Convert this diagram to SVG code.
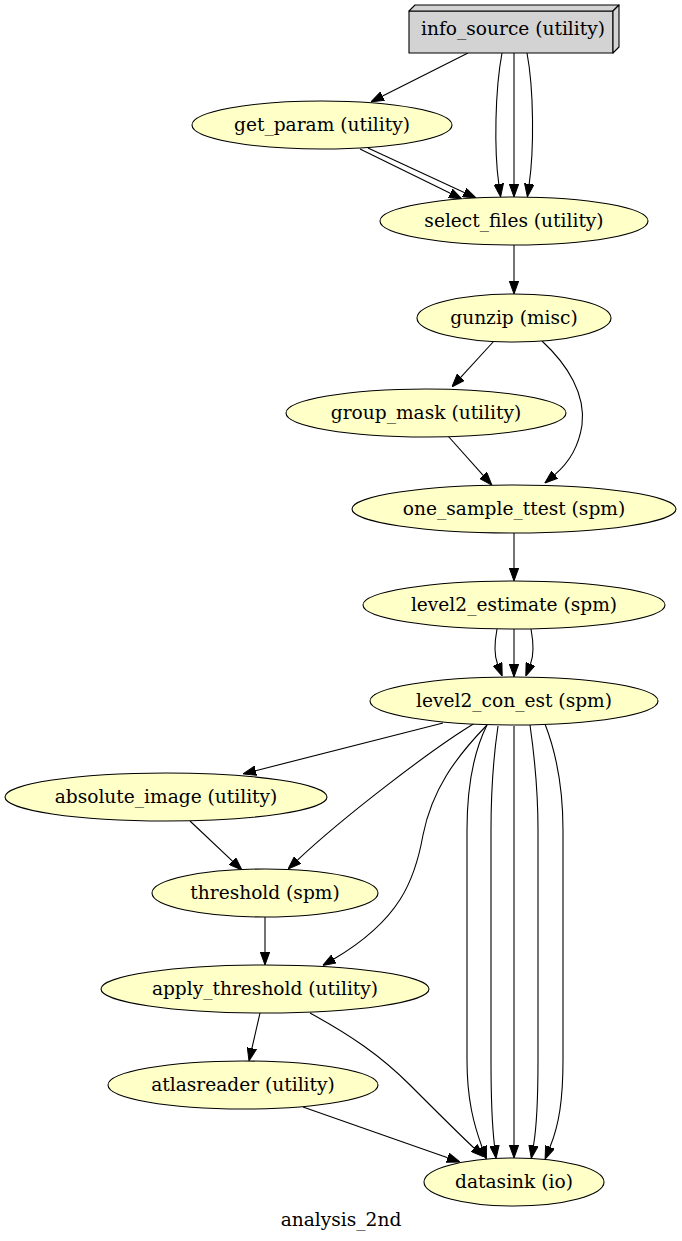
<svg xmlns="http://www.w3.org/2000/svg" width="682" height="1241" viewBox="0 0 682 1241">
<style>
.n ellipse{fill:#ffffc8;stroke:#000;stroke-width:1.1}
.box{fill:#d3d3d3;stroke:#000;stroke-width:1.1;stroke-linejoin:round}
text{font-family:"DejaVu Serif","Liberation Serif",serif;font-size:18.6px;fill:#000;text-anchor:middle}
#edges path{fill:none;stroke:#000;stroke-width:1.1;marker-end:url(#ah)}
</style>
<defs>
<marker id="ah" markerUnits="userSpaceOnUse" viewBox="0 0 13 10" refX="0" refY="5" markerWidth="13" markerHeight="10" orient="auto">
<path d="M0,0.3 L13,5 L0,9.7 z" fill="#000" stroke="#000" stroke-width="1"/>
</marker>
</defs>
<rect width="682" height="1241" fill="#fff"/>
<g id="edges">
<path d="M468,53 L382.6,96.1"/>
<path d="M502,53 C495,90 494,150 498.8,184"/>
<path d="M514,53 L514,184"/>
<path d="M527,53 C534,90 534,150 529.2,184"/>
<path d="M360,149 L450.3,193.3"/>
<path d="M368,148 L464.2,192.5"/>
<path d="M514,245 L514,281"/>
<path d="M494,341 L460.7,377.3"/>
<path d="M542,341 C568,365 586,395 582,425 C579,445 571,461 554.8,474.6"/>
<path d="M448,436 L483.2,475.4"/>
<path d="M514,533 L514,568"/>
<path d="M497,629 C494,645 494,655 497.5,664"/>
<path d="M514,629 L514,664"/>
<path d="M531,629 C534,645 534,655 530.5,664"/>
<path d="M443,723 L255.6,770.7"/>
<path d="M475,723 C430,750 340,820 297.5,860.1"/>
<path d="M190,821 L232.5,861.1"/>
<path d="M265,917 L265,952"/>
<path d="M487,725 C455,758 432,790 423,835 C415,880 400,920 333.9,959"/>
<path d="M487,725 C472,755 467,790 467,830 L467,1060 C467,1100 474,1125 482,1147"/>
<path d="M498,726 C493,760 491,790 491,830 L491,1060 C491,1100 492,1125 494.5,1145.5"/>
<path d="M514,726 L514,1145"/>
<path d="M530,725 C535,760 538,790 538,830 L538,1060 C538,1100 537,1125 533.5,1145.5"/>
<path d="M545,724 C557,755 563,790 563,830 L563,1060 C563,1100 559,1125 550,1147"/>
<path d="M260,1013 L251.9,1048.3"/>
<path d="M310,1013 C350,1035 380,1055 410,1085 C440,1115 460,1135 474,1148"/>
<path d="M303,1107 L447.7,1157.7"/>
</g>
<g id="info_source">
<polygon class="box" points="409,11 613,11 613,53 409,53"/>
<polygon class="box" points="409,11 415,5 619,5 613,11"/>
<polygon class="box" points="613,11 619,5 619,47 613,53"/>
<text x="513" y="34.5">info_source (utility)</text>
</g>
<g id="get_param" class="n"><ellipse cx="322" cy="125" rx="130" ry="24"/><text x="322" y="130.5">get_param (utility)</text></g>
<g id="select_files" class="n"><ellipse cx="514" cy="221" rx="134" ry="24"/><text x="514" y="226.5">select_files (utility)</text></g>
<g id="gunzip" class="n"><ellipse cx="514" cy="318" rx="97" ry="24"/><text x="514" y="323.5">gunzip (misc)</text></g>
<g id="group_mask" class="n"><ellipse cx="426" cy="413" rx="140" ry="24"/><text x="426" y="418.5">group_mask (utility)</text></g>
<g id="one_sample_ttest" class="n"><ellipse cx="514" cy="509" rx="162" ry="24"/><text x="514" y="514.5">one_sample_ttest (spm)</text></g>
<g id="level2_estimate" class="n"><ellipse cx="514" cy="605" rx="151" ry="24"/><text x="514" y="610.5">level2_estimate (spm)</text></g>
<g id="level2_con_est" class="n"><ellipse cx="514" cy="701" rx="144" ry="24"/><text x="514" y="706.5">level2_con_est (spm)</text></g>
<g id="absolute_image" class="n"><ellipse cx="166" cy="797" rx="161" ry="24"/><text x="166" y="802.5">absolute_image (utility)</text></g>
<g id="threshold" class="n"><ellipse cx="265" cy="893" rx="113" ry="24"/><text x="265" y="898.5">threshold (spm)</text></g>
<g id="apply_threshold" class="n"><ellipse cx="265" cy="989" rx="164" ry="24"/><text x="265" y="994.5">apply_threshold (utility)</text></g>
<g id="atlasreader" class="n"><ellipse cx="243" cy="1085" rx="135" ry="24"/><text x="243" y="1090.5">atlasreader (utility)</text></g>
<g id="datasink" class="n"><ellipse cx="514" cy="1182" rx="90" ry="24"/><text x="514" y="1187.5">datasink (io)</text></g>
<text x="341" y="1226">analysis_2nd</text>
</svg>
